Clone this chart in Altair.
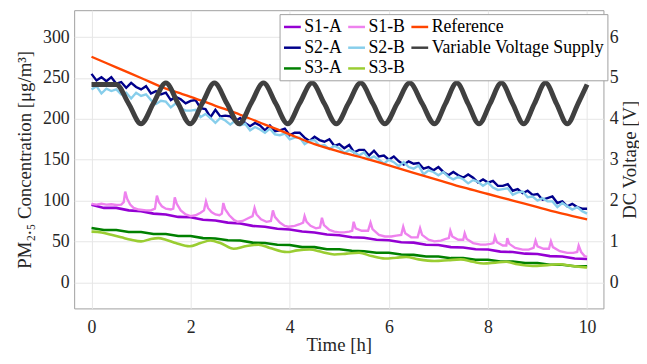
import altair as alt
import pandas as pd

FONT = "Liberation Serif"

# ---------------- data ----------------
T10 = [round(i * 0.1, 1) for i in range(101)]          # 0.1 h grid for noisy PM sensors
T25 = [round(i * 0.25, 2) for i in range(41)]          # 0.25 h grid

S2A = [255, 247, 251, 246, 251, 243, 245, 238, 244, 239,
       236, 240, 231, 234, 230, 232, 223, 227, 224, 219,
       222, 223, 213, 212, 202, 211, 203, 204, 203, 197,
       201, 195, 191, 195, 192, 186, 192, 185, 186, 188,
       180, 183, 183, 177, 173, 178, 174, 172, 175, 167,
       169, 164, 168, 159, 162, 162, 155, 161, 154, 155,
       150, 154, 148, 144, 148, 145, 146, 139, 141, 137,
       141, 135, 131, 135, 131, 128, 132, 128, 122, 126,
       122, 124, 118, 118, 120, 112, 114, 109, 112, 107,
       108, 101, 103, 105, 97, 99, 93, 96, 92, 90, 90]

S2B = [236, 240, 231, 237, 234, 236, 230, 232, 225, 232,
       228, 230, 223, 218, 222, 221, 214, 219, 213, 210,
       210, 211, 202, 206, 201, 195, 201, 198, 193, 198,
       192, 194, 186, 190, 187, 183, 188, 181, 180, 182,
       175, 177, 177, 169, 173, 174, 167, 168, 163, 167,
       164, 158, 162, 159, 155, 159, 151, 154, 150, 145,
       150, 147, 142, 147, 141, 139, 143, 132, 137, 135,
       131, 135, 129, 126, 129, 126, 121, 125, 123, 118,
       122, 116, 113, 114, 115, 107, 110, 111, 104, 105,
       100, 103, 99, 99, 92, 97, 93, 89, 92, 87, 84]

S1A = [95, 91, 91, 88, 87, 84, 83, 80, 79.5, 76.5, 75.5, 73, 72, 69, 68, 65.5,
       64.5, 62, 61, 58.5, 57.5, 55, 54.5, 52, 51.5, 49, 48.5, 46, 45.5, 43,
       42.5, 40.5, 40, 37.5, 37, 35, 34.5, 32, 31.5, 29, 28.5]

S3A = [66.5, 64, 64, 61.5, 61.5, 59, 59, 56.5, 56.5, 54, 53.5, 51.5, 51, 48.5,
       48, 46, 45.5, 43, 43, 40.5, 40.5, 38.5, 38, 36, 36, 34, 33.5, 31.5, 31.5,
       29.5, 29.5, 27.5, 27.5, 25.5, 25.5, 23.5, 23.5, 21.5, 21.5, 19.5, 19.5]

S1B_t = [0.0, 0.1, 0.2, 0.3, 0.4, 0.5, 0.6, 0.65, 0.68, 0.72, 0.78, 0.85, 0.95,
         1.1, 1.2, 1.28, 1.32, 1.36, 1.42, 1.5, 1.6, 1.65, 1.68, 1.72, 1.8, 1.9,
         2.0, 2.1, 2.2, 2.27, 2.31, 2.35, 2.42, 2.5, 2.58, 2.63, 2.66, 2.7, 2.78,
         2.88, 2.95, 3.05, 3.15, 3.25, 3.29, 3.33, 3.42, 3.53, 3.62, 3.66, 3.7,
         3.8, 3.9, 3.97, 4.1, 4.2, 4.27, 4.30, 4.34, 4.42, 4.53, 4.61, 4.65, 4.69,
         4.8, 4.9, 5.0, 5.1, 5.2, 5.26, 5.29, 5.33, 5.45, 5.58, 5.63, 5.67, 5.8,
         5.92, 6.05, 6.15, 6.25, 6.29, 6.33, 6.45, 6.58, 6.63, 6.67, 6.8, 6.92,
         7.05, 7.15, 7.21, 7.24, 7.28, 7.4, 7.5, 7.53, 7.57, 7.7, 7.85, 7.95,
         8.05, 8.11, 8.14, 8.18, 8.3, 8.37, 8.39, 8.43, 8.55, 8.7, 8.82, 8.92,
         8.96, 9.0, 9.12, 9.23, 9.27, 9.31, 9.45, 9.6, 9.72, 9.8, 9.83, 9.88,
         9.95, 10.0]
S1B_v = [96, 95, 96, 95, 95.5, 94.5, 95, 98, 111, 102, 95, 91, 89,
         88, 88, 90, 106, 98, 93, 90, 89, 90, 104, 96, 88, 83,
         81, 82, 85, 88, 99, 91, 86, 83, 82, 84, 97, 89, 82,
         76, 74, 75, 78, 81, 91, 83, 77, 74, 75, 88, 80,
         73, 69, 68, 69, 71, 73, 81, 74, 69, 66, 67, 79, 70,
         64, 62, 61, 61, 62, 63, 74, 66, 63, 63, 73, 65, 58,
         56, 56, 57, 58, 68, 60, 55, 55, 66, 58, 52, 50,
         51, 53, 54, 63, 56, 52, 52, 60, 53, 48, 46, 46,
         47, 48, 56, 49, 45, 45, 54, 47, 42, 40, 40, 42,
         51, 44, 41, 41, 50, 43, 38, 36, 36, 37, 45, 37,
         32, 31]

S3B_t = [0.0, 0.2, 0.4, 0.6, 0.8, 1.0, 1.2, 1.35, 1.5, 1.7, 1.98, 2.2, 2.4, 2.6,
         2.87, 3.1, 3.37, 3.6, 3.94, 4.15, 4.4, 4.65, 4.9, 5.15, 5.4, 5.65, 5.92,
         6.15, 6.35, 6.6, 6.92, 7.2, 7.45, 7.7, 7.91, 8.15, 8.37, 8.6, 8.9, 9.2,
         9.44, 9.7, 10.0]
S3B_v = [62, 61, 58, 55, 52, 50, 53, 54, 52, 48, 44, 48, 51, 48,
         41, 44, 46, 42, 37, 39, 40, 37, 34, 35, 36, 32, 29,
         30, 31, 28, 26, 27, 28, 25, 23, 24, 25, 22, 20, 21,
         22, 20, 18]

REF_t = [0, 0.5, 1, 1.5, 1.75, 2, 2.5, 3, 3.5, 4, 4.5, 5, 5.5, 6, 6.5, 7, 7.5,
         8, 8.5, 9, 9.5, 10]
REF_v = [276, 263, 250, 237, 232, 227, 216, 205, 193, 181, 169, 160, 152, 143,
         134, 125, 116, 108, 100, 92, 84, 77]

VOLT_t = [0, 0.25, 0.5, 0.75, 1.0, 1.25, 1.5, 1.745, 1.99, 2.235, 2.48, 2.73,
          2.98, 3.22, 3.47, 3.715, 3.96, 4.2, 4.45, 4.695, 4.94, 5.185, 5.43,
          5.675, 5.92, 6.17, 6.42, 6.67, 6.92, 7.145, 7.37, 7.595, 7.82, 8.045,
          8.27, 8.495, 8.72, 8.94, 9.16, 9.38, 9.6, 9.82, 10.0]
VOLT_v = [4.84, 4.84, 4.84, 4.37, 3.88, 4.38, 4.88, 4.38, 3.88, 4.38, 4.88, 4.38,
          3.88, 4.38, 4.88, 4.38, 3.88, 4.38, 4.88, 4.38, 3.88, 4.38, 4.88,
          4.38, 3.88, 4.38, 4.88, 4.38, 3.88, 4.38, 4.88, 4.38, 3.88, 4.38,
          4.88, 4.38, 3.88, 4.38, 4.88, 4.38, 3.88, 4.38, 4.84]

# legend entries, filled column by column (3 columns)
LEGEND_ORDER = ["S1-A", "S2-A", "S3-A", "S1-B", "S2-B", "S3-B",
                "Reference", "Variable Voltage Supply"]
COLORS = ["#9400D3", "#00008B", "#008000", "#EE82EE", "#87CEEB", "#9ACD32",
          "#FF4500", "#404040"]

# ---------------- chart ----------------
color_scale = alt.Scale(domain=LEGEND_ORDER, range=COLORS)
legend = alt.Legend(title=None, orient="none", legendX=208, legendY=4,
                    columns=3, symbolType="stroke", symbolSize=289,
                    symbolStrokeWidth=2.5, labelFont=FONT, labelFontSize=18,
                    labelColor="#000000", labelLimit=400,
                    strokeColor="#a0a0a0", fillColor="white",
                    padding=3, rowPadding=2, columnPadding=0, labelOffset=2,
                    gridAlign="each")

x_enc = alt.X("t:Q", scale=alt.Scale(domain=[-0.35, 10.33], nice=False, zero=False),
              axis=alt.Axis(values=[0, 2, 4, 6, 8, 10], title="Time [h]", grid=True,
                            labelPadding=10, titleX=268, titleY=37,
                            titleBaseline="middle", titleAlign="center"))
y_left = alt.Y("v:Q", scale=alt.Scale(domain=[-32, 333], nice=False, zero=False),
               axis=alt.Axis(values=[0, 50, 100, 150, 200, 250, 300],
                             title="PM₂.₅ Concentration [μg/m³]", grid=True,
                             orient="left", labelPadding=5, titleAngle=270,
                             titleX=-50, titleY=151, titleBaseline="middle",
                             titleAlign="center"))
y_right = alt.Y("v:Q", scale=alt.Scale(domain=[-0.64, 6.66], nice=False, zero=False),
                axis=alt.Axis(values=[0, 1, 2, 3, 4, 5, 6], title="DC Voltage [V]",
                              grid=False, orient="right", labelPadding=6,
                              titleAngle=270, titleX=26, titleY=151,
                              titleBaseline="middle", titleAlign="center"))
color_enc = alt.Color("series:N", scale=color_scale, legend=legend)


def frame(ts, vs, name):
    return pd.DataFrame({"t": ts, "v": vs, "series": [name] * len(ts)})


def line(df, width=2.2, interp="linear"):
    return alt.Chart(df).mark_line(strokeWidth=width, interpolate=interp, clip=True).encode(
        x=x_enc, y=y_left, color=color_enc)


left = alt.layer(
    line(frame(T25, S1A, "S1-A"), 2.6),
    line(frame(T10, S2A, "S2-A"), 2.4),
    line(frame(T25, S3A, "S3-A"), 2.6),
    line(frame(S1B_t, S1B_v, "S1-B"), 2.4),
    line(frame(T10, S2B, "S2-B"), 2.4),
    line(frame(S3B_t, S3B_v, "S3-B"), 2.6, "monotone"),
    line(frame(REF_t, REF_v, "Reference"), 2.4, "monotone"),
)

right = alt.Chart(frame(VOLT_t, VOLT_v, "Variable Voltage Supply")).mark_line(
    strokeWidth=5, interpolate="monotone").encode(x=x_enc, y=y_right, color=color_enc)

chart = alt.layer(left, right).resolve_scale(y="independent").properties(
    width=536, height=302,
    autosize=alt.AutoSizeParams(type="none"),
    padding={"left": 67, "top": 0, "right": 36, "bottom": 46},
).configure(font=FONT).configure_view(stroke="#a0a0a0", strokeWidth=1).configure_axis(
    labelFont=FONT, titleFont=FONT, labelFontSize=18, titleFontSize=19,
    labelColor="#262626", titleColor="#262626", titleFontWeight="normal",
    domain=False, ticks=False, gridColor="#e6e6e6", gridWidth=1)

chart.save("out.html", embed_options={"renderer": "svg", "actions": False})
